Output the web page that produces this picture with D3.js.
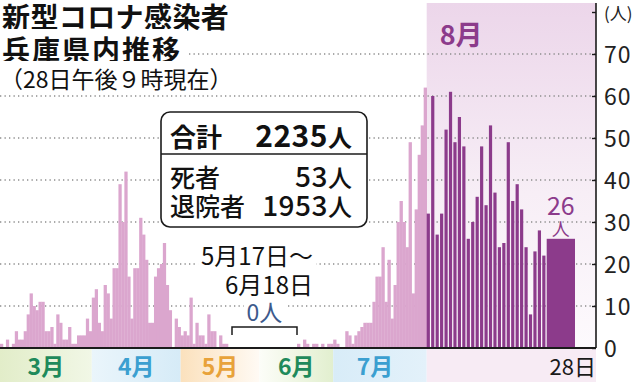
<!DOCTYPE html>
<html>
<head>
<meta charset="utf-8">
<script src="https://cdn.jsdelivr.net/npm/d3@7"></script>
<style>
  body { margin: 0; background: #fff; }
  svg { display: block; }
  text { font-family: "Noto Sans CJK JP", "Noto Sans", sans-serif; }
</style>
</head>
<body>
<div id="chart"></div>
<script>
// daily new cases, Hyogo, 2020
const march = [1, 0, 2, 0, 1, 4, 2, 2, 4, 8, 13, 10, 9, 11, 11, 4, 4, 5, 1, 8, 6, 2, 2, 5, 1, 1, 3, 3, 3, 7, 4]
const april = [12, 14, 6, 4, 15, 13, 7, 19, 19, 39, 30, 42, 17, 7, 19, 19, 31, 27, 21, 6, 6, 17, 19, 20, 25, 15, 9, 0, 7, 5]
const may = [3, 4, 3, 12, 1, 6, 3, 3, 1, 8, 4, 4, 0, 3, 1, 1, 0, 0, 0, 0, 0, 0, 0, 0, 0, 0, 0, 0, 0, 0, 0]
const june = [0, 0, 0, 0, 0, 0, 0, 0, 0, 0, 0, 0, 0, 0, 0, 0, 0, 0, 1, 0, 2, 1, 0, 1, 1, 0, 1, 0, 1, 1]
const july = [2, 1, 0, 0, 4, 3, 1, 3, 4, 5, 6, 6, 6, 11, 17, 17, 24, 11, 21, 7, 15, 30, 35, 30, 24, 49, 13, 33, 46, 53, 62]
const august = [32, 60, 27, 32, 52, 61, 49, 55, 48, 26, 30, 36, 48, 34, 53, 37, 24, 25, 49, 35, 39, 33, 24, 8, 23, 28, 22, 26]

const monthNames = ['3月', '4月', '5月', '6月', '7月']
const yTicks = [0, 10, 20, 30, 40, 50, 60, 70, 80]

const titleLines = ['新型コロナ感染者', '兵庫県内推移']
const subTitle = '（28日午後９時現在）'
const totals = [['合計', '2235'], ['死者', '53'], ['退院者', '1953']]

// canvas
const width = 639,
  height = 382,
  baseY = 348,
  axisX = 596

const svg = d3.select('#chart')
  .append('svg')
  .attr('width', width)
  .attr('height', height)

const daily = [].concat(march, april, may, june, july, august)
const monthStart = [0, 31, 61, 92, 122, 153]
const augStart = 153, lastDay = daily.length - 1

// the zero stretch 5/17 - 6/18 is squeezed, August is drawn wider
const x = d3.scaleLinear()
  .domain([0, 77, 110, augStart, lastDay, lastDay + 1])
  .range([0, 228, 297, 426.7, 546.7, 575])
const y = d3.scaleLinear()
  .domain([0, 80])
  .range([baseY, 12])

const defs = svg.append('defs')

// month bands under the baseline
const bandColors = [
  ['#e2edc9', '#f1f7e6'],
  ['#eaf5fb', '#d6ebf7'],
  ['#fbe1bd', '#fffaf4'],
  ['#fcfdf8', '#e2efcf'],
  ['#d8ecf8', '#e3f1fa']
]
const monthInk = ['#1f8a5b', '#3b9fd0', '#e8a23a', '#1f8a5b', '#3b9fd0']

monthNames.forEach((m, i) => {
  let g = defs.append('linearGradient').attr('id', 'band' + i)
  g.append('stop').attr('offset', '0%').attr('stop-color', bandColors[i][0])
  g.append('stop').attr('offset', '100%').attr('stop-color', bandColors[i][1])
  svg.append('rect')
    .attr('x', x(monthStart[i]))
    .attr('y', baseY)
    .attr('width', x(monthStart[i + 1]) - x(monthStart[i]))
    .attr('height', height - baseY)
    .attr('fill', `url(#band${i})`)
})

// august backdrop
let pg = defs.append('linearGradient').attr('id', 'augbg')
  .attr('x1', 0).attr('x2', 0).attr('y1', 0).attr('y2', 1)
pg.append('stop').attr('offset', '0%').attr('stop-color', '#ecd6ea')
pg.append('stop').attr('offset', '55%').attr('stop-color', '#f7eef6')
pg.append('stop').attr('offset', '100%').attr('stop-color', '#fdfafd')
svg.append('rect')
  .attr('x', x(augStart)).attr('y', 3)
  .attr('width', axisX - x(augStart)).attr('height', baseY - 3)
  .attr('fill', 'url(#augbg)')
svg.append('rect')
  .attr('x', x(augStart)).attr('y', baseY)
  .attr('width', axisX - x(augStart)).attr('height', height - baseY)
  .attr('fill', '#f7ebf4')

// dotted grid
svg.selectAll('line.grid')
  .data(yTicks.filter(d => d > 0 && d < 80))
  .enter()
  .append('line')
  .attr('class', 'grid')
  .attr('x1', 0).attr('x2', axisX)
  .attr('y1', d => y(d)).attr('y2', d => y(d))
  .attr('stroke', '#8d8d8d')
  .attr('stroke-width', 1.3)
  .attr('stroke-dasharray', '1.3,3.2')

// white box behind a text so the grid stops there
let addBg = (sel, padX, padY) => {
  sel.each(function () {
    let b = this.getBBox()
    d3.select(this.parentNode).insert('rect', () => this)
      .attr('x', b.x - padX).attr('y', b.y - padY)
      .attr('width', b.width + padX * 2).attr('height', b.height + padY * 2)
      .attr('fill', '#fff')
  })
}

// title
let title = svg.append('g')
title.selectAll('text.t')
  .data(titleLines)
  .enter()
  .append('text')
  .attr('class', 't')
  .attr('x', 2)
  .attr('y', (d, i) => 28 + i * 33)
  .attr('font-size', 28)
  .attr('font-weight', 700)
  .attr('letter-spacing', (d, i) => i ? 2 : 0.4)
  .attr('fill', '#111')
  .text(d => d)
title.append('text')
  .attr('class', 't')
  .attr('x', 0)
  .attr('y', 88)
  .attr('font-size', 23)
  .attr('fill', '#111')
  .text(subTitle)
addBg(title.selectAll('text.t'), 5, 0)

// bars
let bars = daily.map((v, i) => ({ i, v })).filter(d => d.v > 0)
svg.selectAll('rect.bar')
  .data(bars)
  .enter()
  .append('rect')
  .attr('class', 'bar')
  .attr('x', d => x(d.i))
  .attr('y', d => y(d.v))
  .attr('width', d => {
    let w = x(d.i + 1) - x(d.i)
    if (d.i < augStart) return w + 0.3
    if (d.i < lastDay) return w * 0.72
    return w
  })
  .attr('height', d => baseY - y(d.v))
  .attr('fill', d => d.i < augStart ? '#dba6ce' : '#8c3b8b')

// baseline
svg.append('line')
  .attr('x1', 0).attr('x2', axisX)
  .attr('y1', baseY).attr('y2', baseY)
  .attr('stroke', '#1b1b1b')
  .attr('stroke-width', 2)

// month labels
svg.selectAll('text.month')
  .data(monthNames)
  .enter()
  .append('text')
  .attr('class', 'month')
  .attr('x', (d, i) => (x(monthStart[i]) + x(monthStart[i + 1])) / 2 - (i === 4 ? 5 : 0))
  .attr('y', 375)
  .attr('text-anchor', 'middle')
  .attr('font-size', 23)
  .attr('font-weight', 700)
  .attr('fill', (d, i) => monthInk[i])
  .text(d => d)

svg.append('text')
  .attr('x', x(augStart) + 13)
  .attr('y', 45)
  .attr('font-size', 27)
  .attr('font-weight', 700)
  .attr('fill', '#8c3b8b')
  .text('8月')

svg.append('text')
  .attr('x', axisX)
  .attr('y', 375)
  .attr('text-anchor', 'end')
  .attr('font-size', 22)
  .attr('fill', '#1a1a1a')
  .text('28日')

// last day label
let lastX = (x(lastDay) + x(lastDay + 1)) / 2
svg.append('text')
  .attr('x', lastX).attr('y', y(daily[lastDay]) - 24)
  .attr('text-anchor', 'middle')
  .attr('font-size', 25)
  .attr('fill', '#8c3b8b')
  .text(daily[lastDay])
svg.append('text')
  .attr('x', lastX).attr('y', y(daily[lastDay]) - 3)
  .attr('text-anchor', 'middle')
  .attr('font-size', 18)
  .attr('fill', '#8c3b8b')
  .text('人')

// totals box
let box = svg.append('g')
box.append('rect')
  .attr('x', 161).attr('y', 112)
  .attr('width', 206).attr('height', 115)
  .attr('rx', 9)
  .attr('fill', '#fff')
  .attr('stroke', '#1b1b1b')
  .attr('stroke-width', 1.6)
box.append('line')
  .attr('x1', 161).attr('x2', 367)
  .attr('y1', 154).attr('y2', 154)
  .attr('stroke', '#1b1b1b')
  .attr('stroke-width', 1.4)
totals.forEach((row, i) => {
  let yy = [147, 187, 216][i]
  box.append('text')
    .attr('x', 170).attr('y', yy)
    .attr('font-size', i ? 25 : 26)
    .attr('font-weight', i ? 500 : 700)
    .attr('fill', '#111')
    .text(row[0])
  box.append('text')
    .attr('x', 328).attr('y', yy)
    .attr('text-anchor', 'end')
    .attr('font-size', i ? 28 : 30)
    .attr('font-weight', i ? 500 : 700)
    .attr('letter-spacing', 0.5)
    .attr('fill', '#111')
    .text(row[1])
  box.append('text')
    .attr('x', 328).attr('y', yy)
    .attr('font-size', 24)
    .attr('font-weight', i ? 500 : 700)
    .attr('fill', '#111')
    .text('人')
})

// zero stretch note
let note = svg.append('g')
note.selectAll('text')
  .data(['5月17日〜', '6月18日'])
  .enter()
  .append('text')
  .attr('x', 313)
  .attr('y', (d, i) => 265 + i * 29)
  .attr('text-anchor', 'end')
  .attr('font-size', 24)
  .attr('font-family', '"Liberation Serif", "Noto Sans CJK JP", serif')
  .attr('fill', '#111')
  .text(d => d)
note.append('text')
  .attr('x', (x(77) + x(110)) / 2 + 2)
  .attr('y', 321)
  .attr('text-anchor', 'middle')
  .attr('font-size', 23)
  .attr('fill', '#3d5a8c')
  .text('0人')
addBg(note.selectAll('text'), 3, -3)
note.append('path')
  .attr('d', `M${x(77) + 4},335V327H${x(110)}V335`)
  .attr('fill', 'none')
  .attr('stroke', '#1b1b1b')
  .attr('stroke-width', 1.5)

// right axis
svg.append('line')
  .attr('x1', axisX).attr('x2', axisX)
  .attr('y1', 3).attr('y2', baseY)
  .attr('stroke', '#1b1b1b')
  .attr('stroke-width', 1.6)
let ax = svg.append('g')
  .attr('transform', `translate(${axisX},0)`)
  .call(d3.axisRight(y)
    .tickValues(yTicks)
    .tickSizeInner(-4)
    .tickSizeOuter(0)
    .tickPadding(8)
    .tickFormat(d => d === 80 ? '(人)' : d))
ax.select('.domain').remove()
ax.selectAll('line').attr('stroke', '#1b1b1b').attr('stroke-width', 1.4)
ax.selectAll('text')
  .attr('font-size', d => d === 80 ? 17 : 23)
  .attr('dy', d => d === 80 ? '0.45em' : '0.36em')
  .attr('font-family', d => d === 80 ? '"Noto Sans CJK JP", sans-serif' : '"Liberation Sans", sans-serif')
  .attr('letter-spacing', d => d === 80 ? 0 : 1)
  .attr('fill', '#222')
</script>
</body>
</html>
